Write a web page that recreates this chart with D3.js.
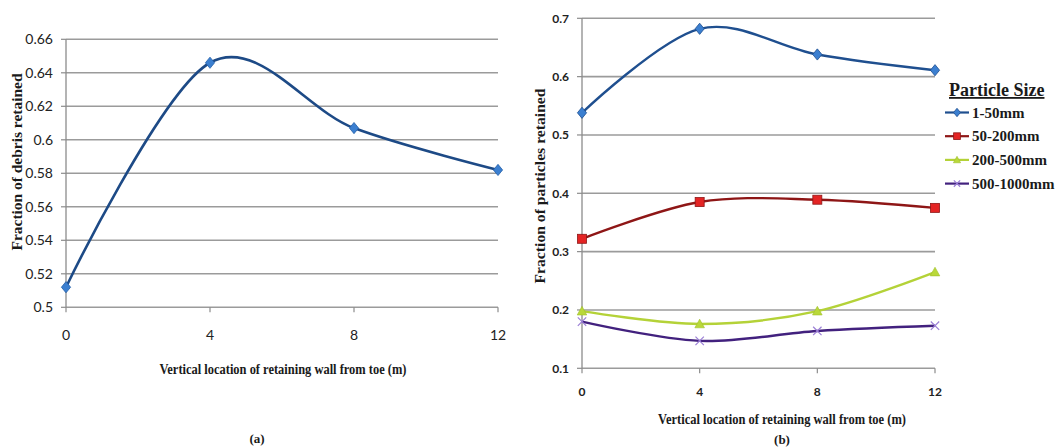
<!DOCTYPE html>
<html>
<head>
<meta charset="utf-8">
<script src="https://cdn.jsdelivr.net/npm/d3@7"></script>
<style>
  html, body { margin: 0; padding: 0; background: #fff; }
  svg { display: block; }
</style>
</head>
<body>
<svg id="chart" width="1059" height="448"></svg>
<script>
// ---- data ----
const positions = [0, 4, 8, 12];                 // vertical location from toe (m)
const debrisRetained = [0.512, 0.646, 0.607, 0.582];

const sizeClasses = ["1-50mm", "50-200mm", "200-500mm", "500-1000mm"];
const retained1to50 = [0.538, 0.682, 0.638, 0.611];
const retained50to200 = [0.322, 0.385, 0.389, 0.375];
const retained200to500 = [0.198, 0.176, 0.198, 0.265];
const retained500to1000 = [0.180, 0.147, 0.164, 0.173];

const leftYTicks = [0.5, 0.52, 0.54, 0.56, 0.58, 0.6, 0.62, 0.64, 0.66];
const rightYTicks = [0.1, 0.2, 0.3, 0.4, 0.5, 0.6, 0.7];
const xTicks = [0, 4, 8, 12];

const xTitle = "Vertical location of retaining wall from toe (m)";

// ---- styling ----
const gridColor = "#9b9b9b";
const axisColor = "#8c8c8c";
const tickFont = "Lato, 'Open Sans', sans-serif";
const titleFont = "'Liberation Serif', 'DejaVu Serif', serif";

const series = [
  { name: sizeClasses[0], values: retained1to50, line: "#1f4f8f", fill: "#3b7fd0", shape: "diamond" },
  { name: sizeClasses[1], values: retained50to200, line: "#8e1616", fill: "#e42424", shape: "square" },
  { name: sizeClasses[2], values: retained200to500, line: "#b4d238", fill: "#b9d83a", shape: "triangle" },
  { name: sizeClasses[3], values: retained500to1000, line: "#42217e", fill: "#9b7fd6", shape: "cross" }
];

const svg = d3.select("#chart");
const smooth = d3.curveCardinal.tension(0);

// marker glyphs; k scales them down for the legend
function drawMarker(g, shape, x, y, fill, stroke, k = 1) {
  if (shape === "diamond") {
    const w = 4.6 * k, h = 5.6 * k;
    g.append("path").attr("d", `M0,${-h}L${w},0L0,${h}L${-w},0Z`)
      .attr("transform", `translate(${x},${y})`)
      .attr("fill", fill).attr("stroke", stroke).attr("stroke-width", 0.8);
  } else if (shape === "square") {
    const s = 4.5 * k;
    g.append("rect").attr("x", x - s).attr("y", y - s).attr("width", 2 * s).attr("height", 2 * s)
      .attr("fill", fill).attr("stroke", stroke).attr("stroke-width", 0.8);
  } else if (shape === "triangle") {
    const s = 4.8 * k;
    g.append("path").attr("d", `M0,${-s}L${s},${s * 0.8}L${-s},${s * 0.8}Z`)
      .attr("transform", `translate(${x},${y})`)
      .attr("fill", fill).attr("stroke", "#9fbf2a").attr("stroke-width", 0.6);
  } else if (shape === "cross") {
    const s = 4.2 * k;
    g.append("path").attr("d", `M${-s},${-s}L${s},${s}M${-s},${s}L${s},${-s}`)
      .attr("transform", `translate(${x},${y})`)
      .attr("fill", "none").attr("stroke", fill).attr("stroke-width", 1.2);
  }
}

function drawFrame(opt) {
  const { x, y, yTicks, yFmt, xLabelY, tickWeight, tickSize } = opt;
  const g = svg.append("g");
  const [x0, x1] = x.range();
  // horizontal gridlines
  g.selectAll("line.grid").data(yTicks).join("line")
    .attr("x1", x0).attr("x2", x1)
    .attr("y1", d => y(d)).attr("y2", d => y(d))
    .attr("stroke", gridColor).attr("stroke-width", 1.6);
  // vertical axis line
  g.append("line").attr("x1", x0).attr("x2", x0)
    .attr("y1", y(yTicks[yTicks.length - 1])).attr("y2", y(yTicks[0]))
    .attr("stroke", axisColor).attr("stroke-width", 1.3);
  // y ticks and labels
  g.selectAll("line.yt").data(yTicks).join("line")
    .attr("x1", x0 - 5).attr("x2", x0)
    .attr("y1", d => y(d)).attr("y2", d => y(d))
    .attr("stroke", axisColor).attr("stroke-width", 1.2);
  g.selectAll("text.yl").data(yTicks).join("text")
    .attr("x", x0 - 13).attr("y", d => y(d)).attr("dy", "0.35em")
    .attr("text-anchor", "end")
    .attr("font-family", tickFont).attr("font-size", tickSize).attr("font-weight", tickWeight)
    .attr("fill", "#222").text(yFmt);
  // x ticks and labels
  g.selectAll("line.xt").data(xTicks).join("line")
    .attr("x1", d => x(d)).attr("x2", d => x(d))
    .attr("y1", y(yTicks[0])).attr("y2", y(yTicks[0]) + 5)
    .attr("stroke", axisColor).attr("stroke-width", 1.2);
  g.selectAll("text.xl").data(xTicks).join("text")
    .attr("x", d => x(d)).attr("y", xLabelY).attr("dy", "0.35em")
    .attr("text-anchor", "middle")
    .attr("font-family", tickFont).attr("font-size", tickSize).attr("font-weight", tickWeight)
    .attr("fill", "#222").text(d => d);
  return g;
}

function axisTitle(txt, cx, cy, len, rotate, size) {
  return svg.append("text")
    .attr("x", 0).attr("y", 0)
    .attr("text-anchor", "middle").attr("dy", "0.35em")
    .attr("font-family", titleFont).attr("font-weight", "bold").attr("font-size", size)
    .attr("fill", "#1a1a1a")
    .attr("textLength", len).attr("lengthAdjust", "spacingAndGlyphs")
    .attr("transform", `translate(${cx},${cy})` + (rotate ? " rotate(-90)" : ""))
    .text(txt);
}

// ================= (a) debris retained =================
const xa = d3.scaleLinear().domain([0, 12]).range([66, 498]);
const ya = d3.scaleLinear().domain([0.5, 0.66]).range([307.3, 39.3]);
drawFrame({ x: xa, y: ya, yTicks: leftYTicks, yFmt: d => String(+d.toFixed(2)),
  xLabelY: 335, tickWeight: 400, tickSize: 14 });

const lineA = d3.line().x((d, i) => xa(positions[i])).y(d => ya(d)).curve(smooth);
svg.append("path").attr("d", lineA(debrisRetained))
  .attr("fill", "none").attr("stroke", "#1d4a86").attr("stroke-width", 2.6);
const mA = svg.append("g");
debrisRetained.forEach((v, i) => drawMarker(mA, "diamond", xa(positions[i]), ya(v), "#3b7fd0", "#2360a8"));

axisTitle("Fraction of debris retained", 17, 162, 177, true, 14);
axisTitle(xTitle, 283, 369, 247, false, 14);
svg.append("text").attr("x", 257).attr("y", 438).attr("dy", "0.35em")
  .attr("text-anchor", "middle").attr("font-family", titleFont).attr("font-weight", "bold")
  .attr("font-size", 13).attr("fill", "#1a1a1a").text("(a)");

// ================= (b) particles retained =================
const xb = d3.scaleLinear().domain([0, 12]).range([582, 935]);
const yb = d3.scaleLinear().domain([0.1, 0.7]).range([368.3, 18.3]);
drawFrame({ x: xb, y: yb, yTicks: rightYTicks, yFmt: d => String(+d.toFixed(1)),
  xLabelY: 392, tickWeight: 700, tickSize: 12 });

const lineB = d3.line().x((d, i) => xb(positions[i])).y(d => yb(d)).curve(smooth);
series.forEach(s => {
  svg.append("path").attr("d", lineB(s.values))
    .attr("fill", "none").attr("stroke", s.line).attr("stroke-width", 2.4);
});
series.forEach(s => {
  const g = svg.append("g");
  s.values.forEach((v, i) => drawMarker(g, s.shape, xb(positions[i]), yb(v), s.fill, s.line));
});

axisTitle("Fraction of particles retained", 540, 186, 195, true, 14);
axisTitle(xTitle, 782, 419, 248, false, 14);
svg.append("text").attr("x", 782).attr("y", 439).attr("dy", "0.35em")
  .attr("text-anchor", "middle").attr("font-family", titleFont).attr("font-weight", "bold")
  .attr("font-size", 13).attr("fill", "#1a1a1a").text("(b)");

// ---- legend ----
const lg = svg.append("g");
lg.append("text").attr("x", 949).attr("y", 96)
  .attr("font-family", titleFont).attr("font-weight", "bold").attr("font-size", 18)
  .attr("text-decoration", "underline").attr("fill", "#1a1a1a").text("Particle Size");
series.forEach((s, i) => {
  const cy = 112.5 + i * 23.7;
  lg.append("line").attr("x1", 945).attr("x2", 969).attr("y1", cy).attr("y2", cy)
    .attr("stroke", s.line).attr("stroke-width", 2.2);
  drawMarker(lg, s.shape, 957, cy, s.fill, s.line, 0.75);
  lg.append("text").attr("x", 972).attr("y", cy).attr("dy", "0.35em")
    .attr("font-family", titleFont).attr("font-weight", "bold").attr("font-size", 15)
    .attr("fill", "#1a1a1a").text(s.name);
});
</script>
</body>
</html>
